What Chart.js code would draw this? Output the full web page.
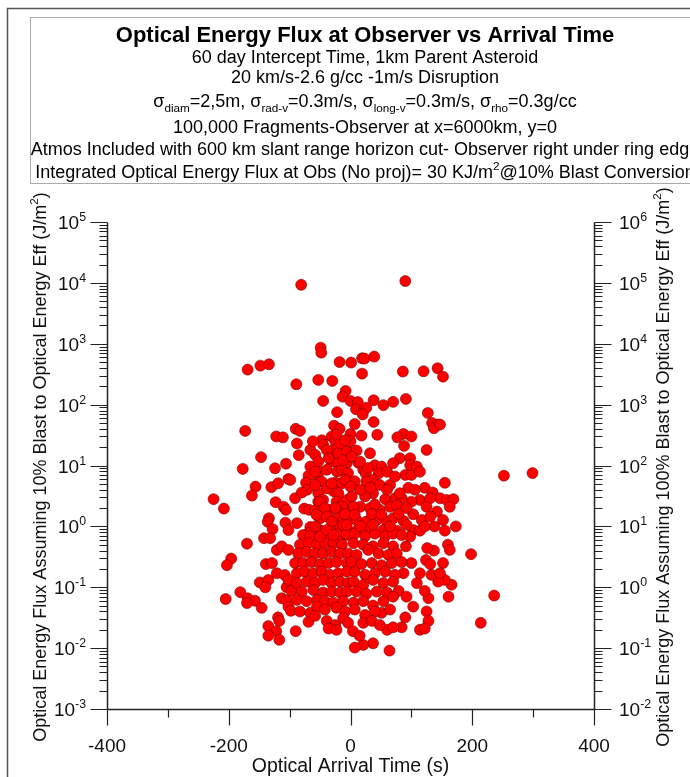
<!DOCTYPE html>
<html>
<head>
<meta charset="utf-8">
<script src="https://cdn.jsdelivr.net/npm/chart.js@4.4.1/dist/chart.umd.min.js"></script>
<style>
  html, body { margin: 0; padding: 0; background: #fff; }
  canvas { display: block; }
</style>
</head>
<body>
<canvas id="myChart" width="690" height="777"></canvas>
<script>
const ctx = document.getElementById('myChart');

// arrival time (s) of each fragment
const arrivalTime = [
  -81, 90, -49, -48, -169, -148, -134, -89, -53, -30, -18, -8, -13, -45, -22, -173, -90, -83, -27, -18, -122, -111,
  1, 19, 23, 39, 19, 86, 120, 143, 152, 0, 12, 9, 22, 26, 20, 38, 54, 70, 91, 127, 134, 143, 137, 7, 38, 0, 18, 44, 87, 100, 77,
  -88, -147, -85, -177, -124, -106, -156, -130, -119, -102, -99, -225, -208, -162, -123, -110, -106, -91, -134, -136, -107, -88, -128, -102, -142,
  -66, -58, -47, -45, -62, -53, -51, -69, -73, -71, -80, -53, -53, -76, -68, -58, -53, -45, -50, -66, -69, -50, -45, -31, -36,
  -31, -25, -23, -28, -20, -31, -20, -39, -22, -25, -14, -28, -20, -23, -12, -6, -17, -9, -23, -12, -17, -6, -17, -6, -6, -6, -6,
  0, -6, 10, 32, 88, 81, 98, 125, -14, -4, 13, 21, 25, 40, 51, 46, 90, 100, 98, 109, 114,
  -9, 7, 37, 26, 48, 65, 95, 122, 135, 155, 147, 158, 169, 114, 100, 163, 142, 37, 24, 2, 73, 84, 57,
  16, 32, 48, 65, 76, 103, 117, 87, 138, 155, 173, 103, 114, 0, 10, 26, 43, 60, 70, 10, 32, 54, 76,
  -170, -132, -196, -203, -121, -113, -102, -139, -129, -121, -108, -149, -135, -140, -181, -205, -169, -157, -170, -146, -113, -105, -102, -98, -105, -97, -119, -117, -135, -122, -135, -117, -90,
  -78, -66, -50, -36, -23, -6,
  -83, -69, -55, -42, -28, -14,
  -86, -72, -58, -45, -31, -17, -4,
  -91, -78, -64, -50, -36, -23, -6,
  -88, -75, -61, -47, -34, -20, -6,
  -102, -88, -72, -58, -45, -31, -17, -4,
  -80, -61, -45, -31, -17, -6,
  -88, -72, -55, -42, -28, -12,
  -83, -66, -55, -42, -23, -9,
  -69, -58, -39, -25, -36, -23, -12, -4,
  160, 163, 198, 152, 137, 126, 124, 166, 155, 144, 133, 161, 128, 122, 109, 114, 91, 98, 125, 128, 114, 122, 214, 147, 131, 100, 87, 79, 92, 103, 90, 84, 60, 70, 51, 37, 21, 7, 64, 4, 15,
  7, 24, 40, 57, 70, 84,
  5, 21, 37, 54, 70,
  10, 29, 46, 62, 76,
  2, 18, 35, 51, 68, 84,
  7, 24, 40, 57, 73,
  5, 21, 37, 54, 70,
  10, 26, 43, 60, 70,
  5, 21, 37, 54,
  7, 24, 40, 65,
  21, 35, 48,
  252, 299, 147, 236,
  -47, -58, -39, -31, -50, -42, -56, -39, -31, -58, -50, -39, -28, -12, -6, -14, -25, -66, -58, -39, -36, -17, -9,
  -12, 2, 16, 29, 60, 70, 73, 0, 16, 32, 60, 81, 106, 131, 5, 40, 92, 125,
  -9, 7, 35, 51, 79, 131, 152, -6, 16, 37, 65, 92, 122
];

// optical energy flux (J/m2) at 10% conversion, same order
const opticalFlux = [
  9300, 10700, 863, 714, 376, 437, 460, 216, 255, 245, 500, 168, 135, 115, 75, 37, 40, 37, 45, 40, 30, 29,
  490, 577, 570, 615, 323, 350, 353, 396, 288, 115, 110, 84, 82, 89, 69, 118, 98, 111, 124, 73, 50, 47, 41, 48, 52, 33, 31, 32, 33, 30, 29,
  23, 13.7, 14.8, 8.8, 9.0, 10.7, 4.5, 4.4, 5.1, 6.0, 5.8, 2.8, 1.96, 3.2, 2.5, 2.1, 1.87, 2.9, 1.36, 1.19, 1.15, 1.13, 0.9, 0.87, 0.64,
  18, 15, 26, 22, 25, 11.6, 7.9, 6.8, 5.2, 4.0, 3.6, 5.5, 3.5, 1.96, 1.87, 1.82, 2.55, 2.72, 1.36, 0.98, 0.78, 0.87, 0.69, 0.87, 1.87,
  30, 25, 32, 18, 16, 11.6, 10.9, 8.5, 7.9, 5.2, 5.1, 3.8, 3.5, 2.55, 2.4, 2.72, 1.87, 1.75, 1.36, 1.27, 1.0, 0.87, 0.68, 0.72, 7.4, 18, 10.9,
  25, 16.9, 17.6, 15.9, 21, 13.2, 13.2, 18, 8.5, 7.5, 11.1, 8.5, 7.4, 10.1, 9.6, 7.4, 7.0, 7.0, 10.1, 9.6, 7.9,
  5.8, 5.5, 5.8, 5.5, 4.8, 4.8, 4.3, 4.3, 3.6, 5.2, 2.9, 2.72, 2.8, 2.72, 2.55, 2.1, 1.75, 3.5, 3.1, 3.1, 2.9, 2.9, 2.8,
  2.1, 2.0, 1.87, 2.1, 2.2, 1.58, 1.27, 1.23, 1.0, 0.85, 1.0, 0.87, 0.85, 1.5, 1.27, 1.2, 1.27, 1.2, 1.36, 0.85, 0.87, 0.87, 0.85,
  0.52, 0.64, 0.296, 0.23, 0.41, 0.47, 0.41, 0.24, 0.25, 0.17, 0.159, 0.12, 0.132, 0.1, 0.083, 0.064, 0.066, 0.06, 0.055, 0.046, 0.066, 0.061, 0.048, 0.041, 0.1, 0.087, 0.032, 0.028, 0.023, 0.019, 0.016, 0.0137, 0.019,
  0.72, 0.69, 0.72, 0.72, 0.75, 0.76,
  0.5, 0.53, 0.5, 0.53, 0.53, 0.5,
  0.36, 0.38, 0.36, 0.36, 0.38, 0.36, 0.36,
  0.25, 0.25, 0.26, 0.24, 0.25, 0.26, 0.25,
  0.17, 0.18, 0.17, 0.18, 0.16, 0.17, 0.18,
  0.132, 0.117, 0.124, 0.117, 0.132, 0.117, 0.124, 0.117,
  0.085, 0.09, 0.082, 0.085, 0.082, 0.085,
  0.062, 0.059, 0.062, 0.059, 0.056, 0.059,
  0.04, 0.038, 0.048, 0.043, 0.046, 0.04,
  0.027, 0.034, 0.028, 0.024, 0.021, 0.02, 0.031, 0.026,
  0.5, 0.41, 0.35, 0.25, 0.4, 0.44, 0.28, 0.11, 0.132, 0.124, 0.16, 0.07, 0.066, 0.087, 0.117, 0.17, 0.47, 0.68, 0.04, 0.028, 0.02, 0.021, 0.026, 0.17, 0.24, 0.25, 0.17, 0.087, 0.07, 0.048, 0.032, 0.022, 0.02, 0.022, 0.038, 0.012, 0.0113, 0.0102, 0.0091, 0.019, 0.016,
  0.76, 0.69, 0.76, 0.69, 0.76, 0.72,
  0.53, 0.5, 0.47, 0.53, 0.47,
  0.34, 0.41, 0.36, 0.34, 0.36,
  0.26, 0.24, 0.25, 0.23, 0.25, 0.26,
  0.18, 0.16, 0.17, 0.18, 0.16,
  0.124, 0.11, 0.132, 0.117, 0.124,
  0.085, 0.078, 0.085, 0.082, 0.07,
  0.056, 0.059, 0.05, 0.059,
  0.043, 0.035, 0.04, 0.043,
  0.026, 0.028, 0.024,
  6.8, 7.5, 47, 0.073,
  5.4, 4.8, 4.2, 5.1, 2.55, 2.0, 1.55, 1.45, 1.2, 1.0, 0.68, 0.87, 0.72, 1.06, 1.45, 2.1, 2.0, 9.6, 7.9, 18, 13.2, 23, 26,
  12.3, 14, 11.5, 9.1, 7.9, 10.9, 6.6, 4.5, 4.0, 4.3, 4.0, 3.5, 4.0, 2.9, 2.1, 2.3, 2.0, 2.1,
  1.6, 1.55, 1.6, 1.55, 1.6, 1.45, 1.27, 1.06, 1.0, 1.06, 1.0, 1.06, 1.0
];

const xMajorTicks = [-400, -200, 0, 200, 400];
const xMinorTicks = [-300, -100, 100, 300];
const leftExponents = [-3, -2, -1, 0, 1, 2, 3, 4, 5];
const rightExponents = [-2, -1, 0, 1, 2, 3, 4, 5, 6];

// title lines: [text, 'sub'|'sup'|''] pieces
const titleLines = [
  [['Optical Energy Flux at Observer vs Arrival Time', '']],
  [['60 day Intercept Time, 1km Parent Asteroid', '']],
  [['20 km/s-2.6 g/cc -1m/s Disruption', '']],
  [['σ', ''], ['diam', 'sub'], ['=2,5m, σ', ''], ['rad-v', 'sub'], ['=0.3m/s, σ', ''], ['long-v', 'sub'], ['=0.3m/s, σ', ''], ['rho', 'sub'], ['=0.3g/cc', '']],
  [['100,000 Fragments-Observer at x=6000km, y=0', '']],
  [['Atmos Included with 600 km slant range horizon cut- Observer right under ring edge', '']],
  [['Integrated Optical Energy Flux at Obs (No proj)= 30 KJ/m', ''], ['2', 'sup'], ['@10% Blast Conversion', '']]
];
const titleBaselines = [42, 62.5, 82.5, 106.5, 132.5, 154.5, 177.5];

const xTitle = 'Optical Arrival Time (s)';
const leftTitle = [['Optical Energy Flux Assuming 10% Blast to Optical Energy Eff (J/m', ''], ['2', 'sup'], [')', '']];
const rightTitle = [['Optical Energy Flux Assuming 100% Blast to Optical Energy Eff (J/m', ''], ['2', 'sup'], [')', '']];

const FONT = '"Liberation Sans", Arial, sans-serif';

function setFont(c, size, bold) {
  c.font = (bold ? 'bold ' : '') + size + 'px ' + FONT;
}

function richWidth(c, parts, size, bold) {
  let w = 0;
  parts.forEach(([t, k]) => {
    setFont(c, k ? size * 0.65 : size, bold);
    w += c.measureText(t).width;
  });
  return w;
}

function drawRich(c, parts, x, y, size, bold, align) {
  const w = richWidth(c, parts, size, bold);
  let cx = align === 'center' ? x - w / 2 : (align === 'right' ? x - w : x);
  c.textAlign = 'left';
  c.textBaseline = 'alphabetic';
  parts.forEach(([t, k]) => {
    const s = k ? size * 0.65 : size;
    setFont(c, s, bold);
    let dy = 0;
    if (k === 'sub') dy = size * 0.3;
    if (k === 'sup') dy = -size * 0.42;
    c.fillText(t, cx, y + dy);
    cx += c.measureText(t).width;
  });
}

const decor = {
  id: 'decor',
  afterDraw(chart) {
    const c = chart.ctx;
    const xs = chart.scales.x, yl = chart.scales.y, yr = chart.scales.y2;
    const left = Math.round(xs.getPixelForValue(-400)) + 0.5;
    const right = Math.round(xs.getPixelForValue(400)) + 0.5;
    const top = Math.round(yl.getPixelForValue(1e5)) + 0.5;
    const bottom = Math.round(yl.getPixelForValue(1e-3)) + 0.5;

    c.save();
    // outer frame
    c.strokeStyle = '#555';
    c.lineWidth = 1.5;
    c.strokeRect(7.5, 8.5, 720, 800);
    // title box
    c.strokeStyle = '#aaa';
    c.lineWidth = 1;
    c.strokeRect(30.5, 17.5, 700, 166);

    c.fillStyle = '#000';
    titleLines.forEach((parts, i) => {
      drawRich(c, parts, 365, titleBaselines[i], i === 0 ? 22 : 18, i === 0, 'center');
    });

    // axes
    c.strokeStyle = '#222';
    c.lineWidth = 1.5;
    c.beginPath();
    c.moveTo(left, top); c.lineTo(left, bottom);
    c.moveTo(right, top); c.lineTo(right, bottom);
    c.moveTo(left, bottom); c.lineTo(right, bottom);
    c.stroke();

    c.lineWidth = 1.2;
    c.beginPath();
    xMajorTicks.forEach(v => {
      const px = Math.round(xs.getPixelForValue(v)) + 0.5;
      c.moveTo(px, bottom); c.lineTo(px, bottom + 16);
    });
    xMinorTicks.forEach(v => {
      const px = Math.round(xs.getPixelForValue(v)) + 0.5;
      c.moveTo(px, bottom); c.lineTo(px, bottom + 8);
    });
    leftExponents.forEach(e => {
      const py = Math.round(yl.getPixelForValue(Math.pow(10, e))) + 0.5;
      c.moveTo(left, py); c.lineTo(left - 17, py);
      if (e < leftExponents[leftExponents.length - 1]) {
        for (let m = 2; m <= 9; m++) {
          const pm = Math.round(yl.getPixelForValue(m * Math.pow(10, e))) + 0.5;
          c.moveTo(left, pm); c.lineTo(left - 8, pm);
        }
      }
    });
    rightExponents.forEach(e => {
      const py = Math.round(yr.getPixelForValue(Math.pow(10, e))) + 0.5;
      c.moveTo(right, py); c.lineTo(right + 17, py);
      if (e < rightExponents[rightExponents.length - 1]) {
        for (let m = 2; m <= 9; m++) {
          const pm = Math.round(yr.getPixelForValue(m * Math.pow(10, e))) + 0.5;
          c.moveTo(right, pm); c.lineTo(right + 8, pm);
        }
      }
    });
    c.stroke();

    // tick labels
    c.fillStyle = '#111';
    xMajorTicks.forEach(v => {
      setFont(c, 19, false);
      c.textAlign = 'center';
      c.textBaseline = 'alphabetic';
      c.fillText(String(v), xs.getPixelForValue(v), 751.5);
    });
    leftExponents.forEach(e => {
      const py = yl.getPixelForValue(Math.pow(10, e));
      drawRich(c, [['10', ''], [String(e), 'sup']], 86, py + 7, 19, false, 'right');
    });
    rightExponents.forEach(e => {
      const py = yr.getPixelForValue(Math.pow(10, e));
      drawRich(c, [['10', ''], [String(e), 'sup']], 619, py + 7, 19, false, 'left');
    });

    // axis titles
    setFont(c, 19.5, false);
    c.textAlign = 'center';
    c.fillText(xTitle, xs.getPixelForValue(0), 772);

    c.save();
    c.translate(39, 467);
    c.rotate(-Math.PI / 2);
    drawRich(c, leftTitle, 0, 6.5, 18, false, 'center');
    c.restore();

    c.save();
    c.translate(662.5, 467);
    c.rotate(-Math.PI / 2);
    drawRich(c, rightTitle, 0, 6.5, 18, false, 'center');
    c.restore();

    c.restore();
  }
};

new Chart(ctx, {
  type: 'scatter',
  data: {
    datasets: [{
      label: 'Fragments',
      data: arrivalTime.map((t, i) => ({ x: t, y: opticalFlux[i] })),
      backgroundColor: '#ff0000',
      borderColor: '#7a0000',
      borderWidth: 0.6,
      pointRadius: 5.5,
      yAxisID: 'y'
    }]
  },
  options: {
    responsive: false,
    animation: false,
    layout: { padding: { left: 107, right: 96, top: 222, bottom: 68 } },
    plugins: {
      legend: { display: false },
      tooltip: { enabled: false },
      title: { display: false }
    },
    scales: {
      x: { type: 'linear', min: -400, max: 400, display: false },
      y: { type: 'logarithmic', min: 1e-3, max: 1e5, display: false },
      y2: { type: 'logarithmic', position: 'right', min: 1e-2, max: 1e6, display: false }
    }
  },
  plugins: [decor]
});
</script>
</body>
</html>
